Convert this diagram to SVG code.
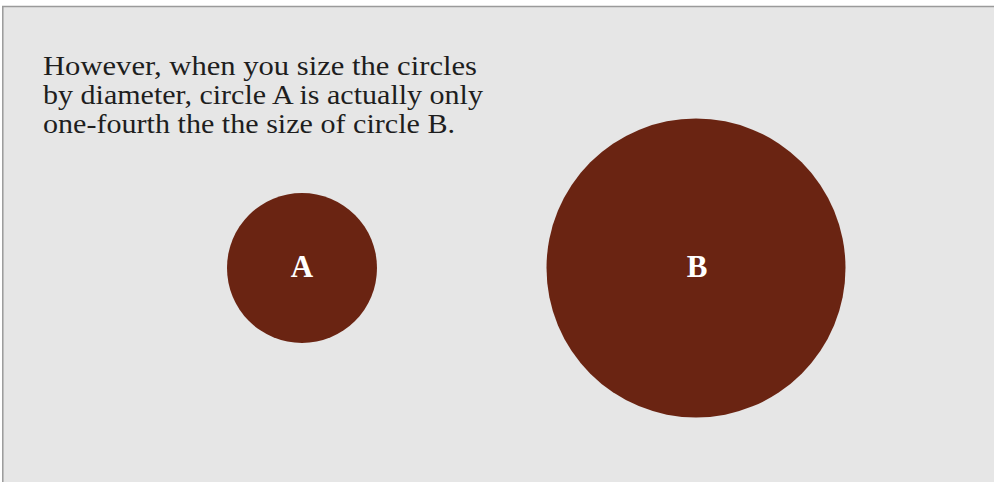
<svg xmlns="http://www.w3.org/2000/svg" width="994" height="482" viewBox="0 0 994 482">
<style>
.caption{font-family:"Liberation Serif","DejaVu Serif",serif;font-size:27px;fill:#1e1e1e}
.lbl{font-family:"Liberation Serif","DejaVu Serif",serif;font-size:31px;font-weight:bold;fill:#ffffff;text-anchor:middle}
.dot{fill:#6a2412}
</style>
<rect x="0" y="0" width="994" height="482" fill="#ffffff"/>
<rect x="2" y="6" width="992" height="476" fill="#e6e6e6"/>
<line x1="2" y1="6.5" x2="994" y2="6.5" stroke="#9a9a9a" stroke-width="1.5"/>
<line x1="2.8" y1="6" x2="2.8" y2="482" stroke="#9a9a9a" stroke-width="1.5"/>
<g id="caption">
<text class="caption" x="43" y="75" textLength="434" lengthAdjust="spacingAndGlyphs">However, when you size the circles</text>
<text class="caption" x="43" y="104" textLength="440" lengthAdjust="spacingAndGlyphs">by diameter, circle A is actually only</text>
<text class="caption" x="43" y="133" textLength="412" lengthAdjust="spacingAndGlyphs">one-fourth the the size of circle B.</text>
</g>
<g id="circleA">
<circle class="dot" cx="302" cy="268" r="75"/>
<text class="lbl" x="302" y="277">A</text>
</g>
<g id="circleB">
<circle class="dot" cx="696" cy="268" r="149.5"/>
<text class="lbl" x="697" y="277">B</text>
</g>
<g id="connectors"></g>
</svg>
